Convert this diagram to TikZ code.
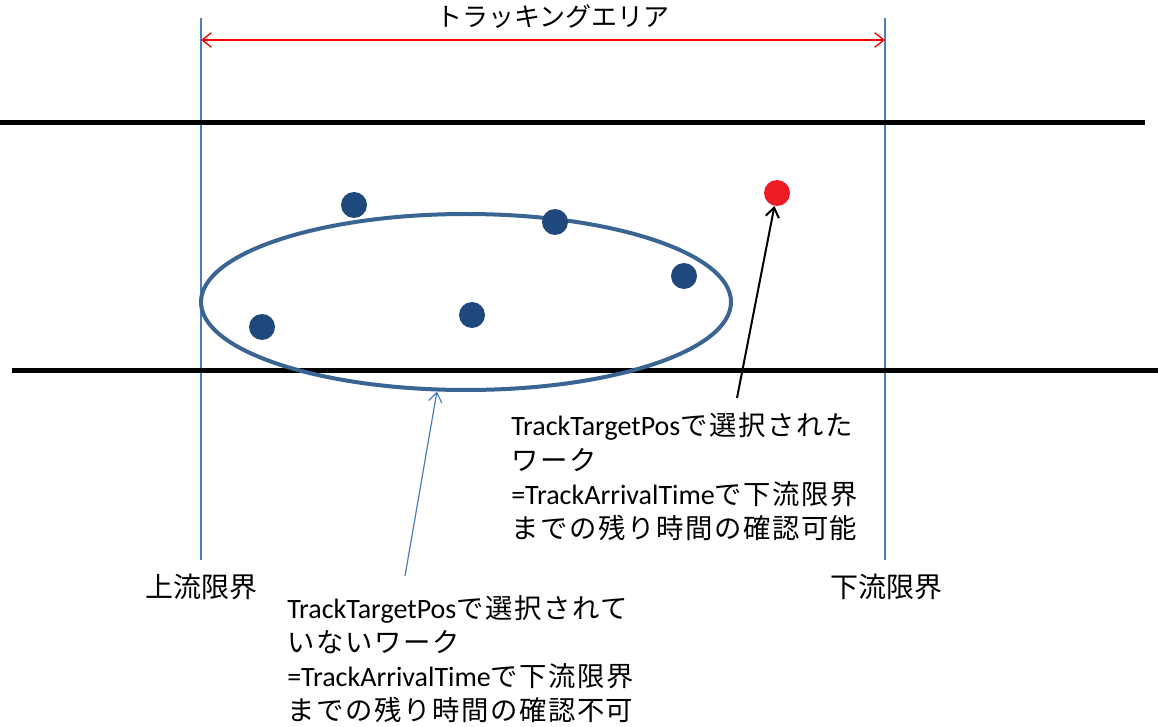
\documentclass[tikz,border=0pt]{standalone}
\usepackage{fontspec}
\setmainfont{Carlito}
\newfontfamily\jpf[LetterSpace=6]{Noto Sans CJK JP}
\newfontfamily\jpt{Noto Sans CJK JP}
\newcommand\J[1]{{\jpf\fontsize{20.5pt}{24pt}\selectfont #1}}
\usetikzlibrary{arrows.meta,shapes.geometric}
\definecolor{dotblue}{HTML}{1F497D}
\definecolor{ellblue}{HTML}{3A6491}
\definecolor{lineblue}{HTML}{4A7EBB}
\definecolor{redarrow}{HTML}{FF0000}
\definecolor{reddot}{HTML}{ED1C24}
\begin{document}
\begin{tikzpicture}[x=0.75pt,y=-0.75pt,
  wdot/.style={circle,fill=dotblue,inner sep=0pt,minimum size=19.5pt},
  rdot/.style={circle,fill=reddot,inner sep=0pt,minimum size=19.5pt},
  rail/.style={line width=3.75pt,black},
  limit/.style={line width=0.9pt,lineblue},
  txt/.style={inner sep=0pt,anchor=base west,font=\fontsize{21pt}{24pt}\selectfont},
  lbl/.style={inner sep=0pt,anchor=base,font=\jpt\fontsize{21pt}{24pt}\selectfont},
  ttl/.style={inner sep=0pt,anchor=base,font=\jpt\fontsize{19.5pt}{22pt}\selectfont}
]
\useasboundingbox (0,0) rectangle (1158,727);
% limits
\coordinate (ut) at (201,18); \coordinate (ub) at (201,560);
\coordinate (dt) at (885,18); \coordinate (db) at (885,560);
\draw[limit] (ut) -- (ub);
\draw[limit] (dt) -- (db);
\coordinate (al) at (201,40); \coordinate (ar) at (885,40);
\draw[redarrow,line width=1pt,{Straight Barb[length=7pt,width=11pt]}-{Straight Barb[length=7pt,width=11pt]}] (al) -- (ar);
\node[ttl] (title) at (553,27) {トラッキングエリア};
% rails
\coordinate (r1a) at (0,123); \coordinate (r1b) at (1145,123);
\coordinate (r2a) at (12,371); \coordinate (r2b) at (1158,371);
\draw[rail] (r1a) -- (r1b);
\draw[rail] (r2a) -- (r2b);
% ellipse
\node[ellipse,draw=ellblue,line width=3pt,inner sep=0pt,minimum width=397.5pt,minimum height=132pt] (ell) at (466,302) {};
% dots
\node[wdot] (d1) at (354,205) {};
\node[wdot] (d2) at (555,222) {};
\node[wdot] (d3) at (684,276) {};
\node[wdot] (d4) at (262,327) {};
\node[wdot] (d5) at (472,315) {};
\node[rdot] (rd) at (777,193) {};
% labels
\node[lbl] (up) at (201,597) {上流限界};
\node[lbl] (down) at (886,597) {下流限界};
% text block 1
\node[txt] (a1) at (511,436) {TrackTargetPos\J{で選択された}};
\node[txt] (a2) at (511,470) {\J{ワーク}};
\node[txt] (a3) at (511,504) {=TrackArrivalTime\J{で下流限界}};
\node[txt] (a4) at (511,538) {\J{までの残り時間の確認可能}};
% text block 2
\node[txt] (b1) at (287,618) {TrackTargetPos\J{で選択されて}};
\node[txt] (b2) at (287,652) {\J{いないワーク}};
\node[txt] (b3) at (287,686) {=TrackArrivalTime\J{で下流限界}};
\node[txt] (b4) at (287,720) {\J{までの残り時間の確認不可}};
% arrows
\coordinate (ka) at (737,398);
\draw[black,line width=1.5pt,-{Straight Barb[length=7pt,width=10pt]}] (ka) -- (rd);
\coordinate (kb) at (405,576);
\draw[lineblue,line width=0.9pt,-{Straight Barb[length=7pt,width=10pt]}] (kb) -- (ell.-108);
\end{tikzpicture}
\end{document}
